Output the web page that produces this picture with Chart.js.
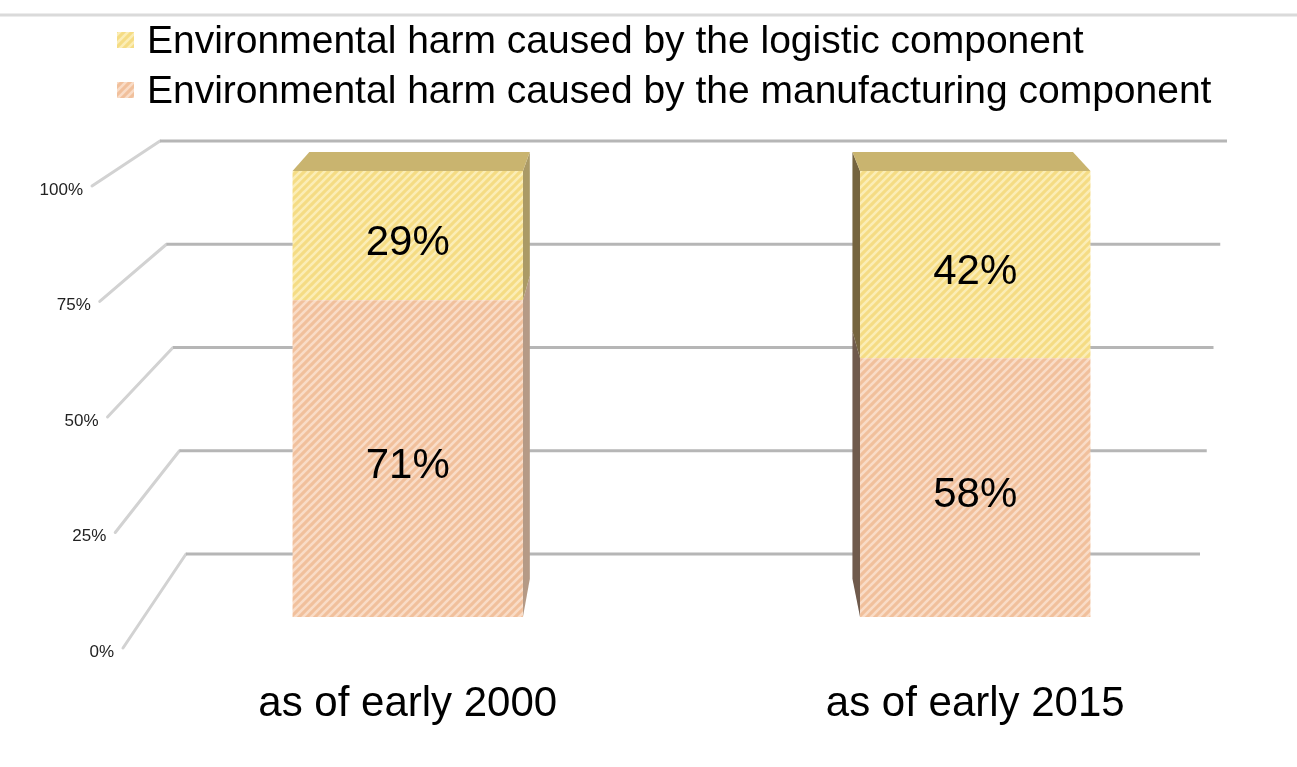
<!DOCTYPE html>
<html>
<head>
<meta charset="utf-8">
<script src="https://cdn.jsdelivr.net/npm/chart.js@4.4.1/dist/chart.umd.min.js"></script>
<style>
    html, body { margin: 0; padding: 0; background: #fff; }
    #wrap { width: 1297px; height: 767px; position: relative; }
</style>
</head>
<body>
<div id="wrap"><canvas id="harmChart" width="1297" height="767"></canvas></div>
<script>
    // Chart data
    const categories = ['as of early 2000', 'as of early 2015'];
    const manufacturing = [71, 58];
    const logistic = [29, 42];
    const seriesNames = [
        'Environmental harm caused by the manufacturing component',
        'Environmental harm caused by the logistic component'
    ];
    const yTicks = [0, 25, 50, 75, 100];
    const yTickLabels = ['0%', '25%', '50%', '75%', '100%'];

    const FONT = "'Liberation Sans', Arial, sans-serif";

    // Hatched fill like the original
    function makeHatch(base, stripe) {
        const c = document.createElement('canvas');
        c.width = 8; c.height = 8;
        const g = c.getContext('2d');
        g.fillStyle = base;
        g.fillRect(0, 0, 8, 8);
        g.strokeStyle = stripe;
        g.lineWidth = 2.6;
        [[-4, 4, 4, -4], [0, 8, 8, 0], [4, 12, 12, 4]].forEach(s => {
            g.beginPath();
            g.moveTo(s[0], s[1]);
            g.lineTo(s[2], s[3]);
            g.stroke();
        });
        return document.getElementById('harmChart').getContext('2d').createPattern(c, 'repeat');
    }

    const orangeHatch = makeHatch('#f1c09c', '#f9dcc7');
    const yellowHatch = makeHatch('#f5dc84', '#fbedb6');

    // Fake 3D: vanishing point and depth
    const VP = { x: 683, y: -271 };
    const DEPTH = 0.043;
    function toBack(x, y) {
        return { x: x + (VP.x - x) * DEPTH, y: y + (VP.y - y) * DEPTH };
    }

    function poly(ctx, pts, fill) {
        ctx.beginPath();
        ctx.moveTo(pts[0].x, pts[0].y);
        for (let i = 1; i < pts.length; i++) ctx.lineTo(pts[i].x, pts[i].y);
        ctx.closePath();
        ctx.fillStyle = fill;
        ctx.fill();
    }

    const sideColors = [
        { left: '#6f5a4c', right: '#b59a86' },
        { left: '#75643f', right: '#ab9a66' }
    ];

    const perspectivePlugin = {
        id: 'perspective',
        beforeDraw(chart) {
            const ctx = chart.ctx;
            ctx.save();
            ctx.strokeStyle = '#dadada';
            ctx.lineWidth = 3;
            ctx.beginPath();
            ctx.moveTo(0, 15);
            ctx.lineTo(chart.width, 15);
            ctx.stroke();
            ctx.restore();
        },
        beforeDatasetsDraw(chart) {
            const ctx = chart.ctx;
            const ys = chart.scales.y;
            const area = chart.chartArea;
            const h = area.bottom - area.top;
            ctx.save();
            yTicks.forEach((v, i) => {
                const py = ys.getPixelForValue(v);
                const t = (area.bottom - py) / h;
                const by = area.bottom - 63 - 0.926 * (area.bottom - py);
                const bx0 = 186 - 26 * t;
                const bx1 = 1200 + 27 * t;
                const lx = 123 - 31 * t;
                const ly = area.bottom + 31 - 1.036 * (area.bottom - py);
                ctx.lineCap = 'round';
                ctx.lineWidth = 3;
                ctx.strokeStyle = '#d2d2d2';
                ctx.beginPath();
                ctx.moveTo(lx, ly);
                ctx.lineTo(bx0, by);
                ctx.stroke();
                ctx.strokeStyle = '#b6b6b6';
                ctx.lineCap = 'butt';
                ctx.beginPath();
                ctx.moveTo(bx0, by);
                ctx.lineTo(bx1, by);
                ctx.stroke();
                ctx.fillStyle = '#222';
                ctx.font = '17px ' + FONT;
                ctx.textAlign = 'right';
                ctx.textBaseline = 'middle';
                ctx.fillText(yTickLabels[i], lx - 9, ly + 4);
            });

            // side and top faces
            chart.data.datasets.forEach((ds, di) => {
                const meta = chart.getDatasetMeta(di);
                meta.data.forEach(el => {
                    const x1 = el.x - el.width / 2;
                    const x2 = el.x + el.width / 2;
                    const top = Math.min(el.y, el.base);
                    const bot = Math.max(el.y, el.base);
                    if (el.x < VP.x) {
                        poly(ctx, [{ x: x2, y: top }, toBack(x2, top), toBack(x2, bot), { x: x2, y: bot }], sideColors[di].right);
                    } else {
                        poly(ctx, [{ x: x1, y: top }, toBack(x1, top), toBack(x1, bot), { x: x1, y: bot }], sideColors[di].left);
                    }
                    if (di === chart.data.datasets.length - 1) {
                        poly(ctx, [{ x: x1, y: top }, { x: x2, y: top }, toBack(x2, top), toBack(x1, top)], '#c9b46f');
                    }
                });
            });
            ctx.restore();
        },
        afterDatasetsDraw(chart) {
            const ctx = chart.ctx;
            ctx.save();
            ctx.fillStyle = '#000';
            ctx.font = '42px ' + FONT;
            ctx.textAlign = 'center';
            ctx.textBaseline = 'middle';
            chart.data.datasets.forEach((ds, di) => {
                const meta = chart.getDatasetMeta(di);
                meta.data.forEach((el, i) => {
                    const mid = (el.y + el.base) / 2;
                    ctx.fillText(ds.data[i] + '%', el.x, mid + 8);
                });
            });
            ctx.restore();
        },
        afterDraw(chart) {
            // legend, top item first
            const ctx = chart.ctx;
            ctx.save();
            const items = chart.data.datasets.slice().reverse();
            items.forEach((ds, i) => {
                const cy = 40 + i * 50;
                ctx.fillStyle = ds.backgroundColor;
                ctx.fillRect(117, cy - 8, 17, 16);
                ctx.fillStyle = '#000';
                ctx.font = '39px ' + FONT;
                ctx.textAlign = 'left';
                ctx.textBaseline = 'alphabetic';
                ctx.fillText(ds.label, 147, cy + 13);
            });
            ctx.restore();
        }
    };

    const chart = new Chart(document.getElementById('harmChart'), {
        type: 'bar',
        data: {
            labels: categories,
            datasets: [{
                label: seriesNames[0],
                data: manufacturing,
                backgroundColor: orangeHatch,
                borderWidth: 0
            }, {
                label: seriesNames[1],
                data: logistic,
                backgroundColor: yellowHatch,
                borderWidth: 0
            }]
        },
        options: {
            responsive: false,
            animation: false,
            devicePixelRatio: 1,
            layout: {
                padding: { top: 171, left: 124, right: 38, bottom: 37 }
            },
            datasets: {
                bar: { categoryPercentage: 1, barPercentage: 0.406 }
            },
            plugins: {
                legend: { display: false },
                tooltip: { enabled: false }
            },
            scales: {
                x: {
                    stacked: true,
                    grid: { display: false, drawTicks: false },
                    border: { display: false },
                    ticks: {
                        color: '#000',
                        padding: 62,
                        font: { size: 42, family: FONT }
                    },
                    afterFit(scale) {
                        scale.height = 113;
                    }
                },
                y: {
                    stacked: true,
                    display: false,
                    min: 0,
                    max: 100
                }
            }
        },
        plugins: [perspectivePlugin]
    });
</script>
</body>
</html>
